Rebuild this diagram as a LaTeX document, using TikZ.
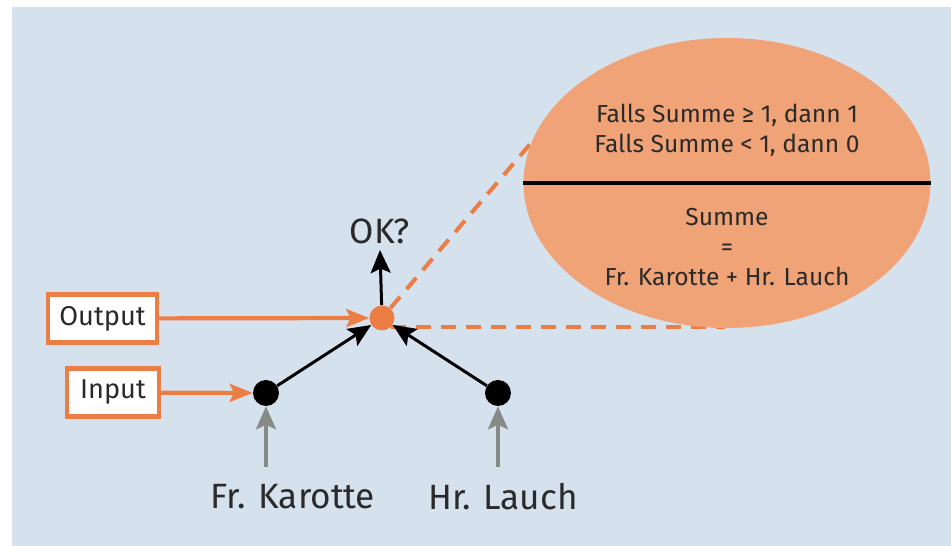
\documentclass[tikz,border=0pt]{standalone}
\usepackage{fontspec}
\setmainfont{Fira Sans}
\usetikzlibrary{arrows.meta,shapes.geometric}
\definecolor{bgblue}{HTML}{D5E1ED}
\definecolor{netorange}{HTML}{EC7E45}
\definecolor{lightorange}{HTML}{F0A376}
\definecolor{arrowgrey}{HTML}{878B87}
\definecolor{textdark}{HTML}{2A2A2A}

\begin{document}
\begin{tikzpicture}[x=0.02cm,y=-0.02cm]
      \tikzstyle{dot}=[circle,fill=black,minimum size=0.52cm,inner sep=0]
      \tikzstyle{iobox}=[draw=netorange,line width=2.3pt,fill=white,inner sep=0,minimum height=0.96cm,text=textdark,font=\fontsize{15.5}{18}\selectfont]
      \tikzstyle{feed}=[line width=2.4pt,draw=netorange,-{Stealth[length=0.46cm,width=0.36cm,inset=0.09cm]}]
      \tikzstyle{weight}=[line width=1.7pt,draw=black,-{Stealth[length=0.46cm,width=0.4cm,inset=0.09cm]}]
      \tikzstyle{signal}=[line width=2pt,draw=arrowgrey,-{Stealth[length=0.46cm,width=0.4cm,inset=0.09cm]}]
      \tikzstyle{zoomline}=[line width=2.3pt,draw=netorange,dash pattern=on 0.3cm off 0.2cm]
      \tikzstyle{bigtext}=[text=textdark,font=\fontsize{20}{24}\selectfont]
      \tikzstyle{ruletext}=[text=textdark,align=center,font=\fontsize{14}{17}\selectfont]
      % Page and background
      \useasboundingbox (0,0) rectangle (951,546);
      \fill[bgblue] (12,7) rectangle (951,546);
      % Neuron and its two inputs
      \node (neuron) at (382,318) [circle,fill=netorange,minimum size=0.5cm,inner sep=0] {};
      \node (karotte) at (266,393) [dot] {};
      \node (lauch) at (498,393) [dot] {};
      \node (ok) at (380,231) [bigtext,font=\fontsize{20}{22}\selectfont] {OK?};
      \coordinate (okend) at (380,250);
      % Names below the inputs
      \node (karottename) at (293,497) [bigtext] {Fr. Karotte};
      \node (lauchname) at (503,497) [bigtext] {Hr. Lauch};
      \coordinate (karottein) at (266,467);
      \coordinate (lauchin) at (498,467);
      % Labelled boxes
      \node (outbox) at (102.5,318.5) [iobox,minimum width=2.18cm] {Output};
      \node (inbox) at (113,392.5) [iobox,minimum width=1.84cm] {Input};
      % Zoomed view of the neuron
      \draw [zoomline] (neuron) -- (560,109);
      \draw [zoomline] (neuron.-45) -- (neuron.-45 -| 725,0);
      \node (rule) at (727,183) [ellipse,fill=lightorange,minimum width=8.14cm,minimum height=5.8cm,inner sep=0] {};
      \draw [line width=2.3pt] (rule.west) -- (rule.east);
      \node (cond) at (727,130) [ruletext] {Falls Summe ≥ 1, dann 1\\Falls Summe < 1, dann 0};
      \node (sum) at (727,247) [ruletext] {Summe\\=\\Fr. Karotte + Hr. Lauch};
      % Connectors
      \draw [signal] (karottein) -- (karotte);
      \draw [signal] (lauchin) -- (lauch);
      \draw [weight] (karotte) -- (neuron);
      \draw [weight] (lauch) -- (neuron);
      \draw [weight] (neuron) -- (okend);
      \draw [feed] (outbox) -- (neuron);
      \draw [feed] (inbox) -- (karotte);
    \end{tikzpicture}
\end{document}
